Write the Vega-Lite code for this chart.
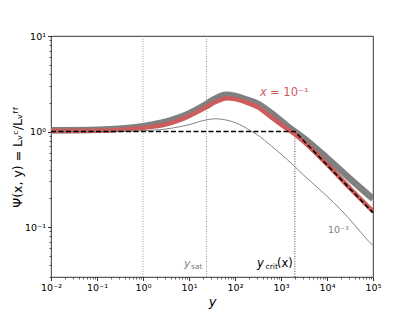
{
  "$schema": "https://vega.github.io/schema/vega-lite/v6.json",
  "width": 322,
  "height": 241,
  "autosize": {"type": "none"},
  "padding": {"left": 51, "top": 36, "right": 42, "bottom": 34},
  "config": {
    "font": "DejaVu Sans",
    "view": {"stroke": "black", "strokeWidth": 0.8},
    "axis": {"grid": false, "domain": false, "tickColor": "black", "tickWidth": 0.8, "labelColor": "black", "labelFont": "DejaVu Sans", "labelFontSize": 9.5, "titleFont": "DejaVu Sans", "titleColor": "black", "titleFontWeight": "normal"}
  },
  "datasets": {
    "curves": [
      {"c": "g", "y": 0.01, "psi": 1.03}, {"c": "g", "y": 0.1, "psi": 1.045}, {"c": "g", "y": 1, "psi": 1.14}, {"c": "g", "y": 3.16, "psi": 1.27}, {"c": "g", "y": 6, "psi": 1.4}, {"c": "g", "y": 10, "psi": 1.55}, {"c": "g", "y": 23, "psi": 1.92}, {"c": "g", "y": 40, "psi": 2.25}, {"c": "g", "y": 62, "psi": 2.42}, {"c": "g", "y": 100, "psi": 2.36}, {"c": "g", "y": 160, "psi": 2.2}, {"c": "g", "y": 316, "psi": 1.95}, {"c": "g", "y": 630, "psi": 1.55}, {"c": "g", "y": 1350, "psi": 1.15}, {"c": "g", "y": 3160, "psi": 0.85}, {"c": "g", "y": 10000, "psi": 0.53}, {"c": "g", "y": 31600, "psi": 0.32}, {"c": "g", "y": 100000, "psi": 0.197},
      {"c": "r", "y": 0.01, "psi": 1.01}, {"c": "r", "y": 0.1, "psi": 1.02}, {"c": "r", "y": 1, "psi": 1.09}, {"c": "r", "y": 3.16, "psi": 1.19}, {"c": "r", "y": 6, "psi": 1.31}, {"c": "r", "y": 10, "psi": 1.45}, {"c": "r", "y": 23, "psi": 1.78}, {"c": "r", "y": 40, "psi": 2.06}, {"c": "r", "y": 68, "psi": 2.23}, {"c": "r", "y": 100, "psi": 2.19}, {"c": "r", "y": 160, "psi": 2.05}, {"c": "r", "y": 316, "psi": 1.79}, {"c": "r", "y": 630, "psi": 1.4}, {"c": "r", "y": 1350, "psi": 1.07}, {"c": "r", "y": 2000, "psi": 0.94}, {"c": "r", "y": 3160, "psi": 0.78}, {"c": "r", "y": 10000, "psi": 0.455}, {"c": "r", "y": 31600, "psi": 0.255}, {"c": "r", "y": 100000, "psi": 0.146},
      {"c": "t", "y": 0.01, "psi": 1.0}, {"c": "t", "y": 0.1, "psi": 1.0}, {"c": "t", "y": 1, "psi": 1.02}, {"c": "t", "y": 4.5, "psi": 1.09}, {"c": "t", "y": 10, "psi": 1.18}, {"c": "t", "y": 23, "psi": 1.32}, {"c": "t", "y": 37, "psi": 1.36}, {"c": "t", "y": 60, "psi": 1.33}, {"c": "t", "y": 100, "psi": 1.24}, {"c": "t", "y": 158, "psi": 1.12}, {"c": "t", "y": 224, "psi": 1.01}, {"c": "t", "y": 300, "psi": 0.93}, {"c": "t", "y": 630, "psi": 0.7}, {"c": "t", "y": 1000, "psi": 0.58}, {"c": "t", "y": 1900, "psi": 0.44}, {"c": "t", "y": 3000, "psi": 0.355}, {"c": "t", "y": 5000, "psi": 0.285}, {"c": "t", "y": 9500, "psi": 0.215}, {"c": "t", "y": 20000, "psi": 0.152}, {"c": "t", "y": 40000, "psi": 0.105}, {"c": "t", "y": 74000, "psi": 0.074}, {"c": "t", "y": 100000, "psi": 0.064},
      {"c": "d", "y": 0.01, "psi": 1.0}, {"c": "d", "y": 2000, "psi": 1.0}, {"c": "d", "y": 100000, "psi": 0.1414}
    ]
  },
  "data": {"name": "curves"},
  "resolve": {"axis": {"x": "independent", "y": "independent"}},
  "layer": [
    {
      "data": {"values": [{"v": 1}, {"v": 24}]},
      "mark": {"type": "rule", "color": "#808080", "strokeWidth": 0.8, "strokeDash": [1, 1.5]},
      "encoding": {"x": {"field": "v", "type": "quantitative", "scale": {"type": "log", "domain": [0.01, 100000], "nice": false}, "axis": null}}
    },
    {
      "data": {"values": [{"v": 2000, "lo": 0.03, "hi": 1}]},
      "mark": {"type": "rule", "color": "#333333", "strokeWidth": 0.9, "strokeDash": [1, 1.5]},
      "encoding": {
        "x": {"field": "v", "type": "quantitative", "scale": {"type": "log", "domain": [0.01, 100000], "nice": false}, "axis": null},
        "y": {"field": "lo", "type": "quantitative", "scale": {"type": "log", "domain": [0.03, 10], "nice": false}, "axis": null},
        "y2": {"field": "hi"}
      }
    },
    {
      "transform": [{"filter": "datum.c == 'g'"}],
      "mark": {"type": "line", "color": "#808080", "strokeWidth": 6.5, "interpolate": "monotone", "clip": true},
      "encoding": {
        "x": {"field": "y", "type": "quantitative", "scale": {"type": "log", "domain": [0.01, 100000], "nice": false},
          "axis": {"values": [0.01, 0.1, 1, 10, 100, 1000, 10000, 100000], "orient": "bottom", "tickSize": 3.5, "labelPadding": 2, "labelFlush": false,
            "labelExpr": "'10' + (datum.value < 0.5 ? '⁻' : '') + substring('⁰¹²³⁴⁵', abs(round(log(datum.value)/LN10)), abs(round(log(datum.value)/LN10))+1)",
            "title": "y", "titleFontSize": 13, "titleFontStyle": "italic", "titlePadding": 3}},
        "y": {"field": "psi", "type": "quantitative", "scale": {"type": "log", "domain": [0.03, 10], "nice": false},
          "axis": {"values": [0.1, 1, 10], "orient": "left", "tickSize": 3.5, "labelPadding": 2,
            "labelExpr": "'10' + (datum.value < 0.5 ? '⁻' : '') + substring('⁰¹²³⁴⁵', abs(round(log(datum.value)/LN10)), abs(round(log(datum.value)/LN10))+1)",
            "title": "Ψ(x, y) = Lᵥᶜ/Lᵥᶠᶠ", "titleFontSize": 12.5, "titlePadding": 0}}
      }
    },
    {
      "transform": [{"filter": "datum.c == 'r'"}],
      "mark": {"type": "line", "color": "#cd5c5c", "strokeWidth": 4.5, "interpolate": "monotone", "clip": true},
      "encoding": {
        "x": {"field": "y", "type": "quantitative", "scale": {"type": "log", "domain": [0.01, 100000], "nice": false},
          "axis": {"orient": "bottom", "values": [0.02,0.03,0.04,0.05,0.06,0.07,0.08,0.09,0.2,0.3,0.4,0.5,0.6,0.7,0.8,0.9,2,3,4,5,6,7,8,9,20,30,40,50,60,70,80,90,200,300,400,500,600,700,800,900,2000,3000,4000,5000,6000,7000,8000,9000,20000,30000,40000,50000,60000,70000,80000,90000], "labels": false, "tickSize": 2, "tickWidth": 0.6, "title": null}},
        "y": {"field": "psi", "type": "quantitative", "scale": {"type": "log", "domain": [0.03, 10], "nice": false},
          "axis": {"orient": "left", "values": [0.03,0.04,0.05,0.06,0.07,0.08,0.09,0.2,0.3,0.4,0.5,0.6,0.7,0.8,0.9,2,3,4,5,6,7,8,9], "labels": false, "tickSize": 2, "tickWidth": 0.6, "title": null}}
      }
    },
    {
      "transform": [{"filter": "datum.c == 't'"}],
      "mark": {"type": "line", "color": "#858585", "strokeWidth": 1, "interpolate": "monotone", "clip": true},
      "encoding": {
        "x": {"field": "y", "type": "quantitative", "scale": {"type": "log", "domain": [0.01, 100000], "nice": false}, "axis": null},
        "y": {"field": "psi", "type": "quantitative", "scale": {"type": "log", "domain": [0.03, 10], "nice": false}, "axis": null}
      }
    },
    {
      "transform": [{"filter": "datum.c == 'd'"}],
      "mark": {"type": "line", "color": "black", "strokeWidth": 1.5, "strokeDash": [5, 2.5], "clip": true},
      "encoding": {
        "x": {"field": "y", "type": "quantitative", "scale": {"type": "log", "domain": [0.01, 100000], "nice": false}, "axis": null},
        "y": {"field": "psi", "type": "quantitative", "scale": {"type": "log", "domain": [0.03, 10], "nice": false}, "axis": null}
      }
    },
    {
      "data": {"values": [{"x": 350, "y": 2.55, "t": "x"}]},
      "mark": {"type": "text", "color": "#cd5c5c", "fontSize": 11.5, "fontStyle": "italic", "align": "left", "baseline": "middle"},
      "encoding": {"x": {"field": "x", "type": "quantitative", "axis": null}, "y": {"field": "y", "type": "quantitative", "axis": null}, "text": {"field": "t"}}
    },
    {
      "data": {"values": [{"x": 350, "y": 2.55, "t": "= 10⁻¹"}]},
      "mark": {"type": "text", "color": "#cd5c5c", "fontSize": 11.5, "align": "left", "baseline": "middle", "dx": 10},
      "encoding": {"x": {"field": "x", "type": "quantitative", "axis": null}, "y": {"field": "y", "type": "quantitative", "axis": null}, "text": {"field": "t"}}
    },
    {
      "data": {"values": [{"x": 10500, "y": 0.093, "t": "10⁻³"}]},
      "mark": {"type": "text", "color": "#808080", "fontSize": 9.5, "align": "left", "baseline": "middle"},
      "encoding": {"x": {"field": "x", "type": "quantitative", "axis": null}, "y": {"field": "y", "type": "quantitative", "axis": null}, "text": {"field": "t"}}
    },
    {
      "data": {"values": [{"x": 24, "y": 0.041, "t": "y"}]},
      "mark": {"type": "text", "color": "#808080", "fontSize": 11, "fontStyle": "italic", "align": "right", "baseline": "middle", "dx": -16},
      "encoding": {"x": {"field": "x", "type": "quantitative", "axis": null}, "y": {"field": "y", "type": "quantitative", "axis": null}, "text": {"field": "t"}}
    },
    {
      "data": {"values": [{"x": 24, "y": 0.041, "t": "sat"}]},
      "mark": {"type": "text", "color": "#808080", "fontSize": 7.5, "align": "right", "baseline": "middle", "dx": -4, "dy": 3},
      "encoding": {"x": {"field": "x", "type": "quantitative", "axis": null}, "y": {"field": "y", "type": "quantitative", "axis": null}, "text": {"field": "t"}}
    },
    {
      "data": {"values": [{"x": 2000, "y": 0.041, "t": "y"}]},
      "mark": {"type": "text", "color": "black", "fontSize": 11.5, "fontStyle": "italic", "align": "right", "baseline": "middle", "dx": -31},
      "encoding": {"x": {"field": "x", "type": "quantitative", "axis": null}, "y": {"field": "y", "type": "quantitative", "axis": null}, "text": {"field": "t"}}
    },
    {
      "data": {"values": [{"x": 2000, "y": 0.041, "t": "crit"}]},
      "mark": {"type": "text", "color": "black", "fontSize": 7.5, "align": "right", "baseline": "middle", "dx": -17, "dy": 3},
      "encoding": {"x": {"field": "x", "type": "quantitative", "axis": null}, "y": {"field": "y", "type": "quantitative", "axis": null}, "text": {"field": "t"}}
    },
    {
      "data": {"values": [{"x": 2000, "y": 0.041, "t": "(x)"}]},
      "mark": {"type": "text", "color": "black", "fontSize": 11.5, "align": "right", "baseline": "middle", "dx": -2},
      "encoding": {"x": {"field": "x", "type": "quantitative", "axis": null}, "y": {"field": "y", "type": "quantitative", "axis": null}, "text": {"field": "t"}}
    }
  ]
}
